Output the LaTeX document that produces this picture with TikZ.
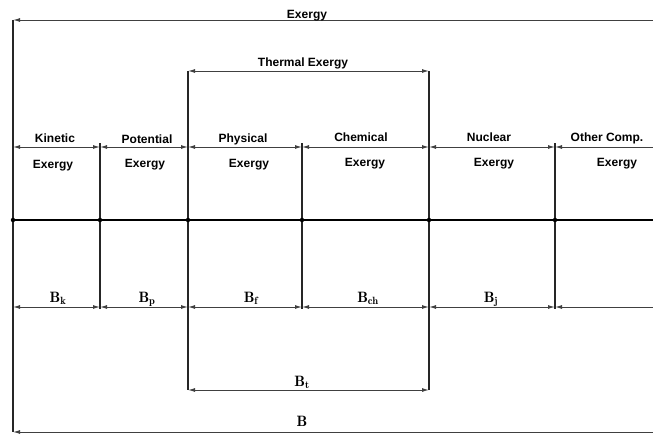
\documentclass[tikz,border=0pt]{standalone}
\usepackage[no-math]{fontspec}
\setmainfont{Liberation Sans}
\usetikzlibrary{arrows.meta}
\newcommand{\bsym}[2]{{\fontfamily{lmr}\bfseries B\textsubscript{#2}}}
\begin{document}
\begin{tikzpicture}[x=1pt,y=-1pt,
  lbl/.style={font=\bfseries\fontsize{12}{14}\selectfont, anchor=base, inner sep=0pt},
  blbl/.style={font=\fontfamily{lmr}\bfseries\fontsize{15}{17}\selectfont, anchor=base, inner sep=0pt},
  dim/.style={draw=black!75, line width=1pt},
  tipl/.style={-{Latex[length=7pt,width=4pt]}},
  tipb/.style={{Latex[length=7pt,width=4pt]}-{Latex[length=7pt,width=4pt]}},
  vline/.style={draw=black!85, line width=1.2pt},
  dot/.style={circle, fill=black, inner sep=0pt, minimum size=4.5pt}]
\useasboundingbox (0,0) rectangle (653,434);
% top Exergy line
\coordinate (t0) at (13,20);
\coordinate (t1) at (653,20);
\draw[dim,tipl] (t1) -- (t0);
\node[lbl] (exergy) at (307,18) {Exergy};
% thermal exergy
\coordinate (th0) at (188,71);
\coordinate (th1) at (429,71);
\draw[dim,tipb] (th0) -- (th1);
\node[lbl] (thermal) at (303,66) {Thermal Exergy};
% row lines
\coordinate (r0) at (13,147);
\coordinate (r1) at (100,147);
\coordinate (r2) at (188,147);
\coordinate (r3) at (302,147);
\coordinate (r4) at (429,147);
\coordinate (r5) at (555,147);
\coordinate (r6) at (653,147);
\foreach \a/\b in {0/1,1/2,2/3,3/4,4/5}{
  \draw[dim,tipb] (r\a) -- (r\b);
}
\draw[dim,tipl] (r6) -- (r5);
% B row line
\coordinate (b0) at (13,307);
\coordinate (b1) at (100,307);
\coordinate (b2) at (188,307);
\coordinate (b3) at (302,307);
\coordinate (b4) at (429,307);
\coordinate (b5) at (555,307);
\coordinate (b6) at (653,307);
\foreach \a/\b in {0/1,1/2,2/3,3/4,4/5}{
  \draw[dim,tipb] (b\a) -- (b\b);
}
\draw[dim,tipl] (b6) -- (b5);
% Bt line
\coordinate (bt0) at (188,390);
\coordinate (bt1) at (429,390);
\draw[dim,tipb] (bt0) -- (bt1);
% B line
\coordinate (bb0) at (13,432);
\coordinate (bb1) at (653,432);
\draw[dim,tipl] (bb1) -- (bb0);
% main line
\coordinate (m0) at (13,220);
\coordinate (m6) at (653,220);
\draw[line width=1.8pt] (m0) -- (m6);
% verticals
\draw[vline] (t0) -- (bb0);
\draw[vline] (th0) -- (bt0);
\draw[vline] (th1) -- (bt1);
\coordinate (v1) at (100,143);
\coordinate (v3) at (302,143);
\coordinate (v5) at (555,143);
\coordinate (w1) at (100,309);
\coordinate (w3) at (302,309);
\coordinate (w5) at (555,309);
\draw[vline] (v1) -- (w1);
\draw[vline] (v3) -- (w3);
\draw[vline] (v5) -- (w5);
% dots
\foreach \x/\n in {13/d0,100/d1,188/d2,302/d3,429/d4,555/d5}{
  \node[dot] (\n) at (\x,220) {};
}
% labels
\node[lbl] (kin) at (55,142) {Kinetic};
\node[lbl] (pot) at (147,143) {Potential};
\node[lbl] (phy) at (243,142) {Physical};
\node[lbl] (che) at (361,141) {Chemical};
\node[lbl] (nuc) at (489,141) {Nuclear};
\node[lbl] (oth) at (607,141) {Other Comp.};
\node[lbl] (e1) at (53,168) {Exergy};
\node[lbl] (e2) at (145,167) {Exergy};
\node[lbl] (e3) at (249,167) {Exergy};
\node[lbl] (e4) at (365,166) {Exergy};
\node[lbl] (e5) at (494,166) {Exergy};
\node[lbl] (e6) at (617,166) {Exergy};
% B labels
\node[blbl] (bk) at (58,302) {B\textsubscript{k}};
\node[blbl] (bp) at (147,302) {B\textsubscript{p}};
\node[blbl] (bf) at (251,302) {B\textsubscript{f}};
\node[blbl] (bch) at (368,302) {B\textsubscript{ch}};
\node[blbl] (bj) at (491,302) {B\textsubscript{j}};
\node[blbl] (bt) at (302,386) {B\textsubscript{t}};
\node[blbl] (bB) at (302,426) {B};
\end{tikzpicture}
\end{document}
